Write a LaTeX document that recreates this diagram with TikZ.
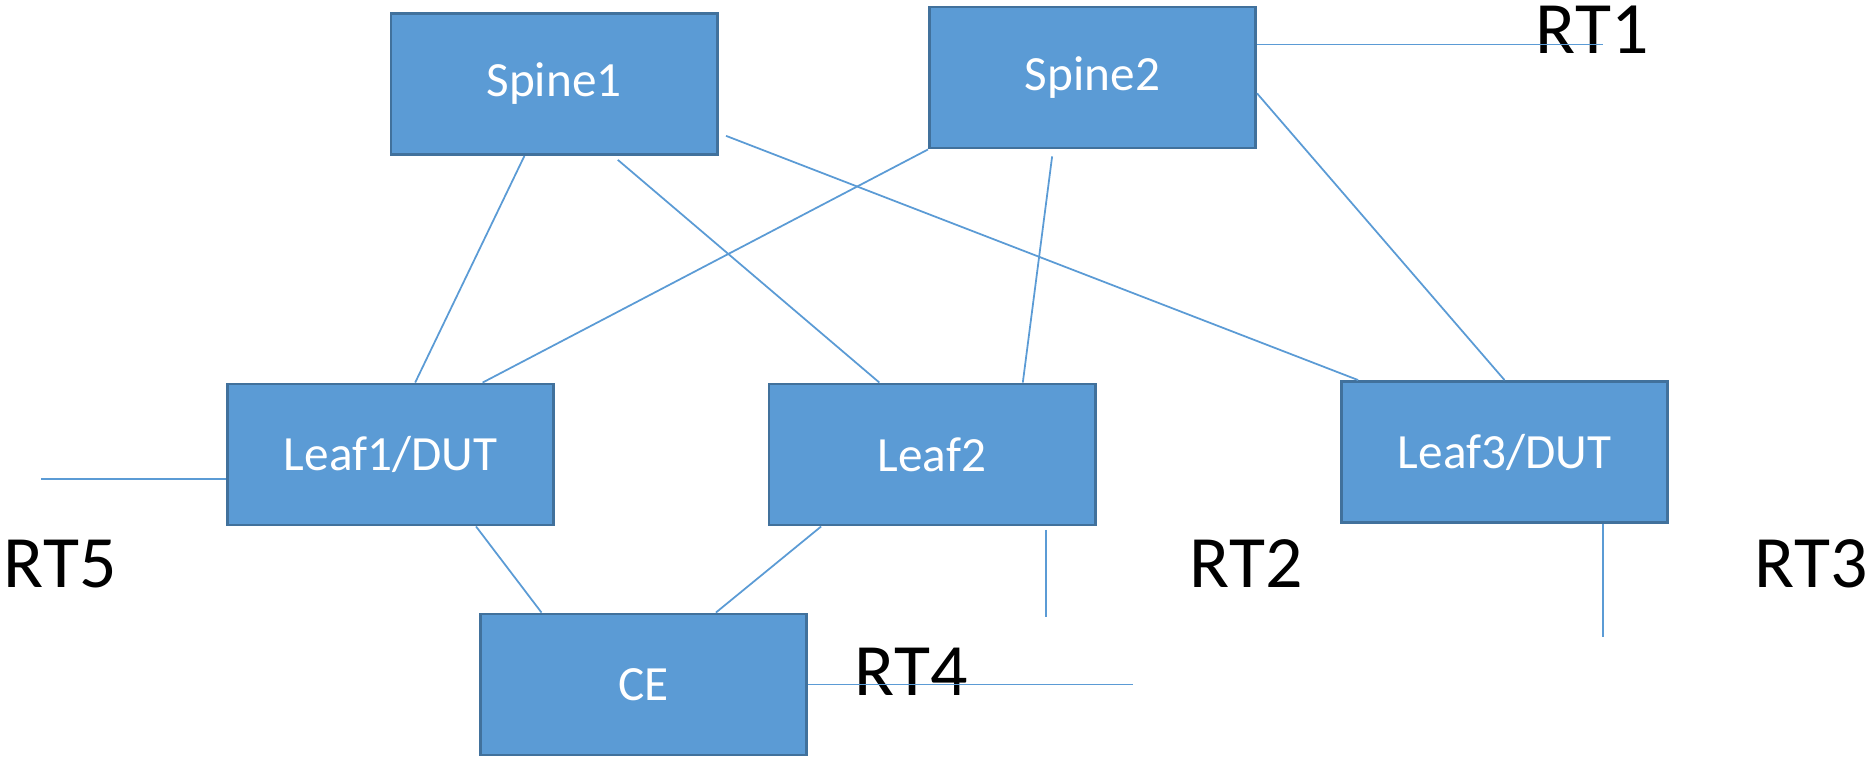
\documentclass[tikz,border=0pt]{standalone}
\usepackage{fontspec}
\setmainfont{Carlito}
\usepackage{tikz}
\usetikzlibrary{calc}
\definecolor{boxfill}{HTML}{5B9BD5}
\definecolor{boxline}{HTML}{41719C}

\begin{document}
\begin{tikzpicture}[x=0.01cm,y=-0.01cm]
\tikzset{dev/.style={rectangle,fill=boxfill,draw=boxline,line width=0.8pt,minimum width=3.26cm,minimum height=1.41cm,text=white,font=\fontsize{14}{17}\selectfont}}
\tikzset{rt/.style={inner sep=0pt,font=\fontsize{21}{25}\selectfont}}
\tikzset{link/.style={draw=boxfill,line width=0.5pt}}

\useasboundingbox (0,0) rectangle (1870,757);

\path (554,84) node[dev] (s1) {Spine1};
\path (1092.5,77.5) node[dev] (s2) {Spine2};
\path (390.5,454.5) node[dev] (l1) {Leaf1/DUT};
\path (932,454.5) node[dev] (l2) {Leaf2};
\path (1504.5,452) node[dev] (l3) {Leaf3/DUT};
\path (643.5,684.5) node[dev] (ce) {CE};

\path (1592,30) node[rt] (rt1) {RT1};
\path (1246,564) node[rt] (rt2) {RT2};
\path (1811,564) node[rt] (rt3) {RT3};
\path (911,672) node[rt] (rt4) {RT4};
\path (60,564) node[rt] (rt5) {RT5};

% loose ends towards the RT routers
\coordinate (e1) at (1603,44);
\coordinate (e2) at (1045,617);
\coordinate (e3) at (1602,637);
\coordinate (e4) at (1133,685);
\coordinate (e5) at (41,479);

% ports for the RT links
\coordinate (p1) at ($(s2.north east)!0.27!(s2.south east)$);
\coordinate (p2) at ($(l2.south west)!0.847!(l2.south east)$);
\coordinate (p3) at ($(l3.south west)!0.8!(l3.south east)$);
\coordinate (p5) at ($(l1.north west)!0.67!(l1.south west)$);

% spine to leaf
\draw[link] ($(s1.south west)!0.41!(s1.south east)$) -- ($(l1.north west)!0.575!(l1.north east)$);
\draw[link,shorten <=1.7pt] ($(s1.south west)!0.68!(s1.south east)$) -- ($(l2.north west)!0.34!(l2.north east)$);
\draw[link,shorten <=2.3pt] ($(s1.north east)!0.84!(s1.south east)$) -- ($(l3.north west)!0.055!(l3.north east)$);
\draw[link] (s2.south west) -- ($(l1.north west)!0.78!(l1.north east)$);
\draw[link,shorten <=2pt] ($(s2.south west)!0.38!(s2.south east)$) -- ($(l2.north west)!0.776!(l2.north east)$);
\draw[link] ($(s2.north east)!0.61!(s2.south east)$) -- ($(l3.north west)!0.5!(l3.north east)$);

% leaf to CE
\draw[link] ($(l1.south west)!0.76!(l1.south east)$) -- ($(ce.north west)!0.19!(ce.north east)$);
\draw[link] ($(l2.south west)!0.163!(l2.south east)$) -- ($(ce.north west)!0.72!(ce.north east)$);

% RT links
\draw[link] (p1) -- (p1 -| e1);
\draw[link,shorten <=1pt] (p2) -- (p2 |- e2);
\draw[link] (p3) -- (p3 |- e3);
\draw[link] (ce.east) -- (ce.east -| e4);
\draw[link] (p5) -- (p5 -| e5);
\end{tikzpicture}
\end{document}
